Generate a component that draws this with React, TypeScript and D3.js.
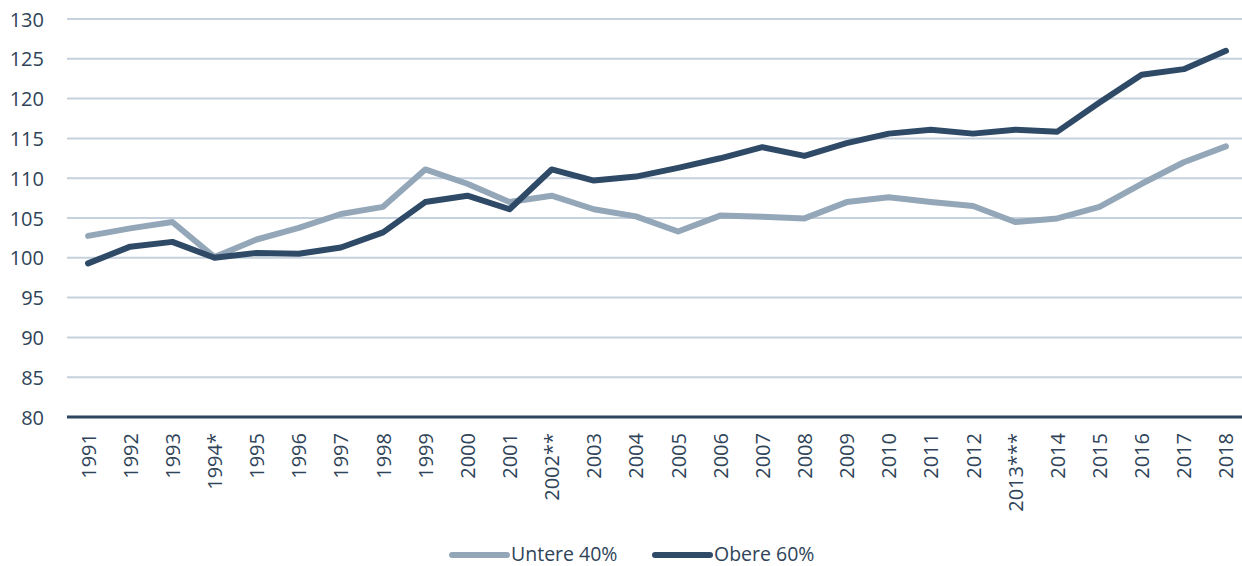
import React from "react";
import * as d3 from "d3";

const categories = ["1991","1992","1993","1994*","1995","1996","1997","1998","1999","2000","2001","2002**","2003","2004","2005","2006","2007","2008","2009","2010","2011","2012","2013***","2014","2015","2016","2017","2018"];
const untere40 = [102.75,103.7,104.5,100.1,102.3,103.75,105.5,106.4,111.1,109.3,107.0,107.8,106.1,105.2,103.3,105.3,105.15,104.95,107.0,107.6,107.0,106.5,104.5,104.95,106.4,109.3,112.0,114.0];
const obere60 = [99.3,101.4,102.0,100.0,100.6,100.5,101.3,103.2,107.0,107.8,106.1,111.1,109.7,110.2,111.3,112.5,113.9,112.8,114.4,115.6,116.1,115.6,116.1,115.85,119.5,123.0,123.7,126.0];
const yTicks = [80,85,90,95,100,105,110,115,120,125,130];
const seriesNames = ["Untere 40%", "Obere 60%"];

const W = 1242, H = 566;
const LIGHT = "#94a7b9";
const DARK = "#2e4a66";
const TEXT = "#2f4459";
const FONT = "'Open Sans', sans-serif";

export default function App() {
  const x = d3.scaleBand().domain(categories).range([67, 1247]);
  const y = d3.scaleLinear().domain([80, 130]).range([417, 19]);
  const cx = (c: string) => (x(c) as number) + x.bandwidth() / 2;
  const line = d3.line<number>().x((_, i) => cx(categories[i])).y((d) => y(d));
  const series = [
    { name: seriesNames[0], values: untere40, color: LIGHT },
    { name: seriesNames[1], values: obere60, color: DARK },
  ];
  const legendX = [452, 655];
  return (
    <svg width={W} height={H} style={{ position: "absolute", left: 0, top: 0, background: "#fff" }} fontFamily={FONT}>
      {yTicks.filter((t) => t !== 80).map((t) => (
        <line key={t} x1={67} x2={1247} y1={y(t)} y2={y(t)} stroke="#c5d1dc" strokeWidth={2} />
      ))}
      {yTicks.map((t) => (
        <text key={"l" + t} x={44} y={y(t)} textAnchor="end" dominantBaseline="central" fontSize={20} fill={TEXT}>{t}</text>
      ))}
      {series.map((s) => (
        <path key={s.name} d={line(s.values) || ""} fill="none" stroke={s.color} strokeWidth={6} strokeLinejoin="round" strokeLinecap="round" />
      ))}
      <line x1={67} x2={1247} y1={y(80)} y2={y(80)} stroke="#2e4560" strokeWidth={3} />
      {categories.map((c) => (
        <text key={c} transform={`translate(${cx(c)},433) rotate(-90)`} textAnchor="end" dominantBaseline="central" fontSize={20} fill={TEXT}>{c}</text>
      ))}
      {series.map((s, i) => (
        <g key={"lg" + s.name}>
          <line x1={legendX[i]} x2={legendX[i] + 55} y1={555} y2={555} stroke={s.color} strokeWidth={6} strokeLinecap="round" />
          <text x={legendX[i] + 59} y={553} dominantBaseline="central" fontSize={19.5} fill={TEXT}>{s.name}</text>
        </g>
      ))}
    </svg>
  );
}
